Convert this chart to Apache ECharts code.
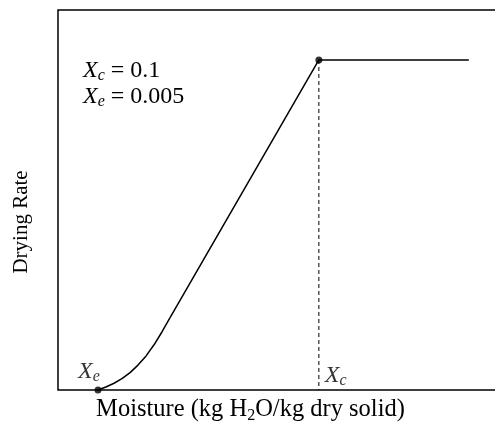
<!DOCTYPE html>
<html>
<head>
<meta charset="utf-8">
<script src="https://cdn.jsdelivr.net/npm/echarts@6/dist/echarts.min.js"></script>
<style>
  html, body { margin: 0; padding: 0; background: #fff; }
  #chart { width: 495px; height: 428px; }
</style>
</head>
<body>
<div id="chart"></div>
<script>
// critical and equilibrium moisture, constant rate
const Xc = 0.1;
const Xe = 0.005;
const Rc = 1;

// falling-rate curve near Xe
const curveX = [0.005, 0.0084, 0.0119, 0.0153, 0.0188, 0.0222, 0.0257, 0.0291, 0.0325, 0.036];
const curveY = [0, 0.0092, 0.0204, 0.0344, 0.0526, 0.0754, 0.1033, 0.137, 0.1758, 0.2195];

// straight part up to Xc, then constant rate
const lineX = [0.036, Xc, 0.1645];
const lineY = [0.2195, Rc, Rc];

const serif = "Liberation Serif";

const zip = (xs, ys) => xs.map((x, i) => [x, ys[i]]);

const subRich = {
  x: { fontFamily: serif, fontStyle: "italic", fontSize: 24, color: "#000", lineHeight: 26 },
  s: { fontFamily: serif, fontStyle: "italic", fontSize: 16, color: "#000", lineHeight: 14, verticalAlign: "bottom" },
  n: { fontFamily: serif, fontSize: 24, color: "#000", lineHeight: 26 }
};

const chart = echarts.init(document.getElementById("chart"));

chart.setOption({
  animation: false,
  grid: {
    left: 58, top: 10, right: -8, bottom: 38,
    outerBoundsMode: "none",
    show: true, borderColor: "#000", borderWidth: 1.5, backgroundColor: "#fff"
  },
  xAxis: {
    type: "value", min: -0.0122, max: 0.1792,
    axisLine: { show: false }, axisTick: { show: false },
    axisLabel: { show: false }, splitLine: { show: false },
    name: "{t|Moisture (kg H}{s|2}{t|O/kg dry solid)}",
    nameLocation: "middle", nameGap: 6,
    nameTextStyle: {
      padding: [0, 60, 0, 0],
      rich: {
        t: { fontFamily: serif, fontSize: 24.5, color: "#000", lineHeight: 28 },
        s: { fontFamily: serif, fontSize: 16, color: "#000", lineHeight: 14, verticalAlign: "bottom" }
      }
    }
  },
  yAxis: {
    type: "value", min: 0, max: 1.1515,
    axisLine: { show: false }, axisTick: { show: false },
    axisLabel: { show: false }, splitLine: { show: false },
    name: "Drying Rate",
    nameLocation: "middle", nameGap: 26,
    nameTextStyle: { fontFamily: serif, fontSize: 21, color: "#000", padding: [0, 44, 0, 0] }
  },
  graphic: [{
    type: "text", left: 83, top: 59,
    style: {
      text: "{x|X}{s|c}{n| = 0.1}\n{x|X}{s|e}{n| = 0.005}",
      rich: subRich
    }
  }],
  series: [
    {
      type: "line", data: zip(curveX, curveY),
      symbol: "none", lineStyle: { color: "#000", width: 1.5 }
    },
    {
      type: "line", data: zip(lineX, lineY),
      symbol: "none", lineStyle: { color: "#000", width: 1.5 }
    },
    {
      type: "line", data: [[Xc, Rc], [Xc, 0]],
      symbol: "none", lineStyle: { color: "#000", width: 1, type: [4, 3] }
    },
    {
      type: "scatter", symbolSize: 7, itemStyle: { color: "#000" },
      data: [
        {
          value: [Xe, 0],
          label: { show: true, position: "top", distance: 2, offset: [-9, 0], formatter: "{x|X}{s|e}", rich: subRich }
        },
        { value: [Xc, Rc] }
      ]
    },
    {
      type: "scatter", symbolSize: 0, silent: true,
      data: [{
        value: [Xc, 0],
        label: { show: true, position: "right", distance: 6, offset: [0, -14], formatter: "{x|X}{s|c}", rich: subRich }
      }]
    }
  ]
});
</script>
</body>
</html>
